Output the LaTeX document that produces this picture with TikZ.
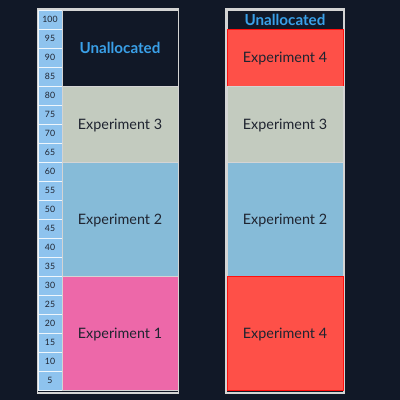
\documentclass[tikz,border=0pt]{standalone}
\usepackage{fontspec}
\setmainfont{Lato}
\usepackage{xcolor}
\definecolor{bgnavy}{HTML}{111827}
\definecolor{tickblue}{HTML}{8EC3EE}
\definecolor{frameline}{HTML}{D4D4D4}
\definecolor{freeblue}{HTML}{3AA0E8}
\definecolor{expone}{HTML}{ED68A9}
\definecolor{exptwo}{HTML}{86BBD8}
\definecolor{expthree}{HTML}{C3CBBF}
\definecolor{expfour}{HTML}{FE5048}
\definecolor{textdark}{HTML}{1F2430}

\tikzset{
  block/.style={rectangle, draw=frameline, line width=0.6pt, inner sep=0pt,
    minimum width=2.9cm, text=textdark, text depth=0pt,
    font=\fontsize{10.2}{12}\selectfont},
  free/.style={block, fill=bgnavy, text=freeblue, font=\fontsize{10.8}{12}\selectfont\bfseries},
  tickcell/.style={rectangle, draw=white!85!tickblue, line width=0.5pt, fill=tickblue,
    minimum width=0.6cm, minimum height=0.475cm, inner sep=0pt, text depth=0pt,
    text=textdark, font=\fontsize{6.2}{7}\selectfont},
}

\begin{document}
\begin{tikzpicture}[x=0.025cm, y=-0.025cm]
\fill[bgnavy] (0,0) rectangle (400,400);
\useasboundingbox (0,0) rectangle (400,400);

% outer frames
\node[rectangle, draw=frameline, line width=0.8pt, minimum width=3.525cm, minimum height=9.6cm] (leftframe) at (108,201) {};
\node[rectangle, draw=frameline, line width=0.8pt, minimum width=2.95cm, minimum height=9.6cm] (rightframe) at (285,201) {};

% percentage scale
\foreach \i in {1,...,20} {
  \pgfmathtruncatemacro{\val}{105-5*\i}
  \node[tickcell] (tick\val) at (50,{10+19*\i-9.5}) {\val};
}

% left column
\node[free, minimum height=1.9cm] (unalloc) at (120,48) {Unallocated};
\node[block, fill=expthree, minimum height=1.9cm] (expthreeL) at (120,124) {Experiment 3};
\node[block, fill=exptwo, minimum height=2.85cm] (exptwoL) at (120,219) {Experiment 2};
\node[block, fill=expone, minimum height=2.85cm] (exponeL) at (120,333) {Experiment 1};

% right column
\node[free, minimum height=0.475cm] (unallocR) at (285,19.5) {Unallocated};
\node[block, fill=expfour, draw=red!80!expfour, minimum height=1.425cm] (expfourtop) at (285,57.5) {Experiment 4};
\node[block, fill=expthree, minimum height=1.9cm] (expthreeR) at (285,124) {Experiment 3};
\node[block, fill=exptwo, minimum height=2.85cm] (exptwoR) at (285,219) {Experiment 2};
\node[block, fill=expfour, draw=red!80!expfour, minimum height=2.85cm] (expfourbot) at (285,333) {Experiment 4};
\end{tikzpicture}
\end{document}
